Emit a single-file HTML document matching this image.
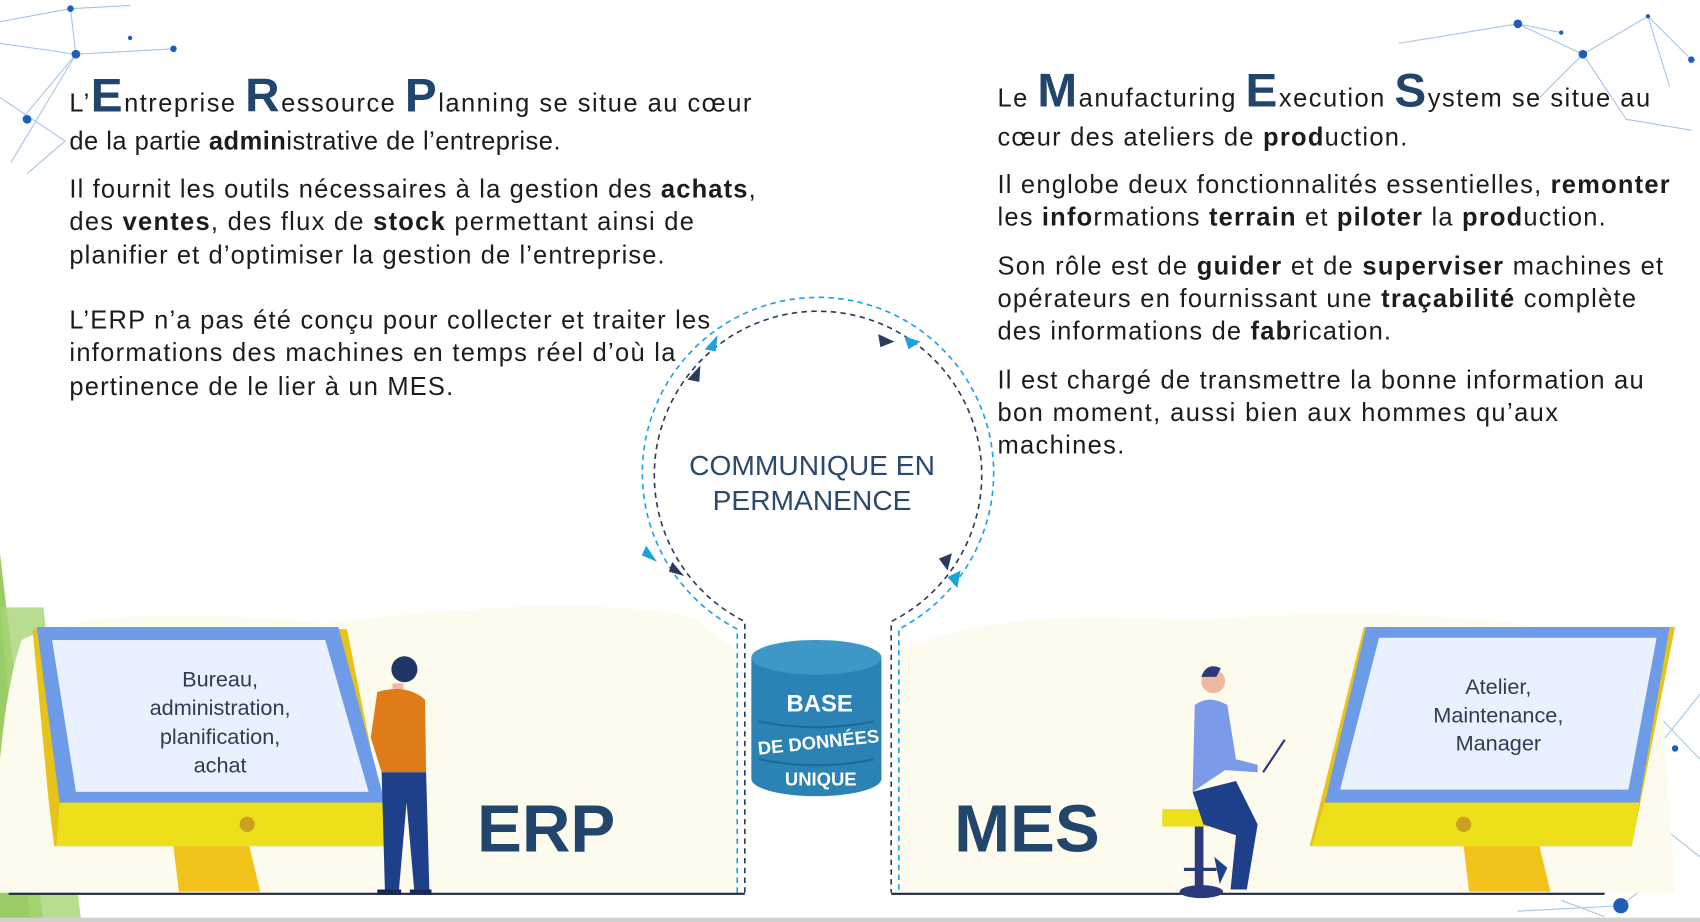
<!DOCTYPE html>
<html><head><meta charset="utf-8"><style>
html,body{margin:0;padding:0;background:#fff;width:1700px;height:922px;overflow:hidden}
svg{display:block}
text{font-family:"Liberation Sans",Arial,sans-serif}
</style></head><body>
<svg width="1700" height="922" viewBox="0 0 1568 850" preserveAspectRatio="none" xmlns="http://www.w3.org/2000/svg">
<rect width="1568" height="850" fill="#fff"/>
<g stroke="#8fb6e0" stroke-width="1" fill="none" opacity="0.8">
<path d="M0,20L65,8L120,5M0,40L70,50L160,45M20,110L70,50L10,150M0,90L60,130L25,160M65,8L70,50"/>
<path d="M1290,40L1400,22L1460,50L1520,15L1560,55M1400,22L1440,30M1460,50L1500,110L1560,120M1460,50L1420,90M1520,15L1540,80"/>
<path d="M1520,650L1568,700M1520,700L1568,640M1530,760L1568,790M1400,840L1495,835L1540,800M1440,830L1480,845"/>
</g>
<g fill="#1d5fb8">
<circle cx="65" cy="8" r="3"/><circle cx="70" cy="50" r="4"/><circle cx="160" cy="45" r="3"/><circle cx="25" cy="110" r="4"/><circle cx="120" cy="35" r="2"/>
<circle cx="1400" cy="22" r="4"/><circle cx="1460" cy="50" r="4"/><circle cx="1520" cy="15" r="2"/><circle cx="1440" cy="30" r="2"/><circle cx="1560" cy="55" r="3"/>
<circle cx="1495" cy="835" r="7"/><circle cx="1545" cy="690" r="3"/><circle cx="1520" cy="705" r="2"/>
</g>
<path d="M0,510L40,850L0,850z" fill="#9ccc65"/>
<path d="M0,560L28,850L75,850L40,560z" fill="#a8d474" opacity="0.8"/>
<path d="M20,590C80,560 200,565 300,575C420,560 560,550 640,570L680,600L680,823L0,823L0,700C5,650 10,620 20,590z" fill="#fdfbee"/>
<path d="M830,600C900,570 980,565 1100,572C1250,560 1400,565 1530,600L1545,823L825,823z" fill="#fdfbee"/>
<g fill="#1c1c1c" font-size="23.5" lengthAdjust="spacing">
<text x="64" y="103" textLength="629">L’<tspan font-size="44" fill="#22466b" font-weight="bold">E</tspan>ntreprise <tspan font-size="44" fill="#22466b" font-weight="bold">R</tspan>essource <tspan font-size="44" fill="#22466b" font-weight="bold">P</tspan>lanning se situe au cœur</text>
<text x="64" y="138" textLength="453">de la partie <tspan font-weight="bold">admin</tspan>istrative de l’entreprise.</text>
<text x="64" y="182" textLength="633">Il fournit les outils nécessaires à la gestion des <tspan font-weight="bold">achats</tspan>,</text>
<text x="64" y="212" textLength="576">des <tspan font-weight="bold">ventes</tspan>, des flux de <tspan font-weight="bold">stock</tspan> permettant ainsi de</text>
<text x="64" y="243" textLength="549">planifier et d’optimiser la gestion de l’entreprise.</text>
<text x="64" y="303" textLength="591">L’ERP n’a pas été conçu pour collecter et traiter les</text>
<text x="64" y="333" textLength="559">informations des machines en temps réel d’où la</text>
<text x="64" y="364" textLength="354">pertinence de le lier à un MES.</text>
</g>
<g fill="#1c1c1c" font-size="23.5">
<text x="920" y="98" textLength="602">Le <tspan font-size="44" fill="#22466b" font-weight="bold">M</tspan>anufacturing <tspan font-size="44" fill="#22466b" font-weight="bold">E</tspan>xecution <tspan font-size="44" fill="#22466b" font-weight="bold">S</tspan>ystem se situe au</text>
<text x="920" y="134" textLength="378">cœur des ateliers de <tspan font-weight="bold">prod</tspan>uction.</text>
<text x="920" y="178" textLength="620">Il englobe deux fonctionnalités essentielles, <tspan font-weight="bold">remonter</tspan></text>
<text x="920" y="208" textLength="561">les <tspan font-weight="bold">info</tspan>rmations <tspan font-weight="bold">terrain</tspan> et <tspan font-weight="bold">piloter</tspan> la <tspan font-weight="bold">prod</tspan>uction.</text>
<text x="920" y="253" textLength="614">Son rôle est de <tspan font-weight="bold">guider</tspan> et de <tspan font-weight="bold">superviser</tspan> machines et</text>
<text x="920" y="283" textLength="589">opérateurs en fournissant une <tspan font-weight="bold">traçabilité</tspan> complète</text>
<text x="920" y="313" textLength="363">des informations de <tspan font-weight="bold">fab</tspan>rication.</text>
<text x="920" y="358" textLength="596">Il est chargé de transmettre la bonne information au</text>
<text x="920" y="388" textLength="517">bon moment, aussi bien aux hommes qu’aux</text>
<text x="920" y="418" textLength="117">machines.</text>
</g>
<g fill="none" stroke-width="1.5">
<path d="M680,823L680,580A162,162 0 1 1 829,580L829,823" stroke="#1aa3e0" stroke-dasharray="5,4"/>
<path d="M687,823L687,573A151,151 0 1 1 822,573L822,823" stroke="#2b3a5e" stroke-dasharray="5,4"/>
</g>
<g>
<path d="M650,322l12,-13l-2,15z" fill="#1aa3e0"/>
<path d="M634,350l12,-13l-1,15z" fill="#2b3a5e"/>
<path d="M834,310l15,5l-11,7z" fill="#1aa3e0"/>
<path d="M810,308l15,7l-13,5z" fill="#2b3a5e"/>
<path d="M596,503l10,15l-14,-6z" fill="#1aa3e0"/>
<path d="M620,518l11,13l-14,-4z" fill="#2b3a5e"/>
<path d="M878,510l-4,16l-8,-11z" fill="#2b3a5e"/>
<path d="M886,526l-3,16l-9,-10z" fill="#1aa3e0"/>
</g>
<text x="749" y="438" text-anchor="middle" font-size="26" fill="#2b4a6b">COMMUNIQUE EN</text>
<text x="749" y="470" text-anchor="middle" font-size="26" fill="#2b4a6b">PERMANENCE</text>
<path d="M693,606L693,718A60,16 0 0 0 813,718L813,606z" fill="#2a82b5"/>
<ellipse cx="753" cy="606" rx="60" ry="16" fill="#3d98c8"/>
<path d="M700,665Q753,676 806,665M700,700Q753,711 806,700" stroke="#1f6a94" stroke-width="2" fill="none"/>
<text x="756" y="656" text-anchor="middle" font-size="22" font-weight="bold" fill="#fff">BASE</text>
<text x="755" y="690" text-anchor="middle" font-size="17" font-weight="bold" fill="#fff" transform="rotate(-6 755 685)">DE DONNÉES</text>
<text x="757" y="724" text-anchor="middle" font-size="17" font-weight="bold" fill="#fff">UNIQUE</text>
<line x1="8" y1="824" x2="687" y2="824" stroke="#1d2a44" stroke-width="2"/>
<line x1="822" y1="824" x2="1480" y2="824" stroke="#1d2a44" stroke-width="2"/>
<path d="M160,780L230,780L240,822L165,822z" fill="#f2c31a"/>
<path d="M30,580L320,580L360,780L50,780L45,740z" fill="#e7c21a"/>
<path d="M34,578L312,578L355,740L55,740z" fill="#6e9be8"/>
<path d="M48,590L300,590L340,730L70,730z" fill="#e8f1fd"/>
<path d="M55,740L355,740L362,780L52,780z" fill="#ede01a"/>
<circle cx="228" cy="760" r="7" fill="#c9a020"/>
<g font-size="20" fill="#2d3d55" text-anchor="middle">
<text x="203" y="633">Bureau,</text><text x="203" y="659">administration,</text><text x="203" y="686">planification,</text><text x="203" y="712">achat</text>
</g>
<circle cx="373" cy="617" r="12" fill="#1e3766"/>
<path d="M362,630l10,0l0,10l-10,0z" fill="#f0b8a0"/>
<path d="M348,638Q375,630 392,645L393,712L352,712L342,680z" fill="#e07b1a"/>
<path d="M352,712L393,712L396,820L382,820L375,740L368,820L355,820z" fill="#1e3f8a"/>
<path d="M348,820h22v5h-22zM378,820h20v5h-20z" fill="#1a2a55"/>
<text x="440" y="785" font-size="62" font-weight="bold" fill="#22466b">ERP</text>
<text x="880" y="785" font-size="62" font-weight="bold" fill="#22466b">MES</text>
<rect x="1072" y="746" width="74" height="16" fill="#ede01a"/>
<rect x="1102" y="762" width="8" height="56" fill="#2b3a7a"/>
<rect x="1092" y="800" width="30" height="3" fill="#2b3a7a"/>
<ellipse cx="1108" cy="822" rx="20" ry="6" fill="#2b3a7a"/>
<circle cx="1119" cy="628" r="11" fill="#f0b8a0"/><path d="M1108,624q5,-14 18,-8l-4,8z" fill="#2b3a7a"/>
<path d="M1102,650Q1115,640 1132,650L1140,700L1160,705L1160,712L1130,710L1100,730z" fill="#7b9be8"/>
<path d="M1100,730L1140,720L1160,760L1150,820L1135,820L1140,770L1110,760z" fill="#1e3f8a"/>
<path d="M1120,790L1132,800L1125,815z" fill="#1e3f8a"/>
<line x1="1165" y1="712" x2="1185" y2="682" stroke="#2b3a7a" stroke-width="2"/>
<path d="M1350,780L1420,780L1430,822L1355,822z" fill="#f2c31a"/>
<path d="M1258,578L1545,578L1505,780L1208,780z" fill="#e7c21a"/>
<path d="M1260,578L1540,578L1512,740L1222,740z" fill="#6e9be8"/>
<path d="M1272,588L1528,588L1502,728L1236,728z" fill="#e8f1fd"/>
<path d="M1222,740L1512,740L1505,780L1210,780z" fill="#ede01a"/>
<circle cx="1350" cy="760" r="7" fill="#c9a020"/>
<g font-size="20" fill="#2d3d55" text-anchor="middle">
<text x="1382" y="640">Atelier,</text><text x="1382" y="666">Maintenance,</text><text x="1382" y="692">Manager</text>
</g>
<rect x="0" y="846" width="1568" height="4" fill="#d0d0d0"/>
</svg>
</body></html>
